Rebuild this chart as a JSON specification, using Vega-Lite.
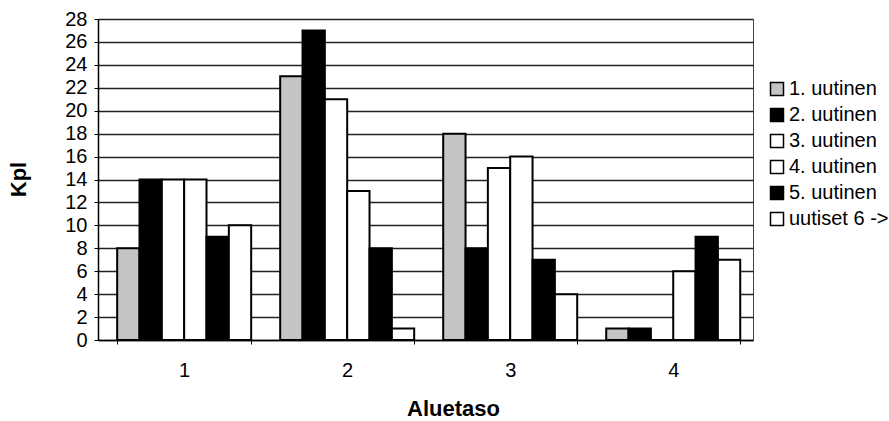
{
  "$schema": "https://vega.github.io/schema/vega-lite/v6.json",
  "autosize": "none",
  "width": 655,
  "height": 321,
  "padding": {"left": 98, "top": 19, "right": 136, "bottom": 81},
  "background": "white",
  "config": {
    "view": {"stroke": "#444444", "strokeWidth": 1},
    "font": "Liberation Sans"
  },
  "data": {
    "values": [
      {"taso": "1", "sarja": "1. uutinen", "kpl": 8},
      {"taso": "1", "sarja": "2. uutinen", "kpl": 14},
      {"taso": "1", "sarja": "3. uutinen", "kpl": 14},
      {"taso": "1", "sarja": "4. uutinen", "kpl": 14},
      {"taso": "1", "sarja": "5. uutinen", "kpl": 9},
      {"taso": "1", "sarja": "uutiset 6 ->", "kpl": 10},
      {"taso": "2", "sarja": "1. uutinen", "kpl": 23},
      {"taso": "2", "sarja": "2. uutinen", "kpl": 27},
      {"taso": "2", "sarja": "3. uutinen", "kpl": 21},
      {"taso": "2", "sarja": "4. uutinen", "kpl": 13},
      {"taso": "2", "sarja": "5. uutinen", "kpl": 8},
      {"taso": "2", "sarja": "uutiset 6 ->", "kpl": 1},
      {"taso": "3", "sarja": "1. uutinen", "kpl": 18},
      {"taso": "3", "sarja": "2. uutinen", "kpl": 8},
      {"taso": "3", "sarja": "3. uutinen", "kpl": 15},
      {"taso": "3", "sarja": "4. uutinen", "kpl": 16},
      {"taso": "3", "sarja": "5. uutinen", "kpl": 7},
      {"taso": "3", "sarja": "uutiset 6 ->", "kpl": 4},
      {"taso": "4", "sarja": "1. uutinen", "kpl": 1},
      {"taso": "4", "sarja": "2. uutinen", "kpl": 1},
      {"taso": "4", "sarja": "3. uutinen", "kpl": 0},
      {"taso": "4", "sarja": "4. uutinen", "kpl": 6},
      {"taso": "4", "sarja": "5. uutinen", "kpl": 9},
      {"taso": "4", "sarja": "uutiset 6 ->", "kpl": 7}
    ]
  },
  "mark": {"type": "bar", "stroke": "black", "strokeWidth": 2},
  "encoding": {
    "x": {
      "field": "taso",
      "type": "nominal",
      "scale": {"paddingInner": 0.178, "paddingOuter": 0.098, "align": 0.6},
      "axis": {
        "title": "Aluetaso",
        "titleFontSize": 22,
        "titleFontWeight": "bold",
        "titleColor": "black",
        "titleX": 355,
        "titleY": 68,
        "titleAlign": "center",
        "titleBaseline": "middle",
        "labelAngle": 0,
        "labelFontSize": 20,
        "labelColor": "black",
        "labelPadding": 16,
        "tickBand": "extent",
        "tickColor": "black",
        "tickSize": 4,
        "domainColor": "black",
        "domainWidth": 1.5,
        "grid": false
      }
    },
    "xOffset": {
      "field": "sarja",
      "type": "nominal",
      "scale": {"paddingInner": 0, "paddingOuter": 0}
    },
    "y": {
      "field": "kpl",
      "type": "quantitative",
      "scale": {"domain": [0, 28], "nice": false},
      "axis": {
        "title": "Kpl",
        "titleFontSize": 22,
        "titleFontWeight": "bold",
        "titleColor": "black",
        "titleX": -80,
        "titleY": 160,
        "titleAngle": -90,
        "titleAlign": "center",
        "titleBaseline": "middle",
        "values": [0, 2, 4, 6, 8, 10, 12, 14, 16, 18, 20, 22, 24, 26, 28],
        "labelFontSize": 20,
        "labelColor": "black",
        "labelPadding": 7,
        "tickColor": "black",
        "tickSize": 4,
        "domainColor": "black",
        "domainWidth": 1.5,
        "grid": true,
        "gridColor": "#222222",
        "gridWidth": 1.3
      }
    },
    "fill": {
      "field": "sarja",
      "type": "nominal",
      "scale": {
        "domain": ["1. uutinen", "2. uutinen", "3. uutinen", "4. uutinen", "5. uutinen", "uutiset 6 ->"],
        "range": ["#c4c4c4", "#000000", "#ffffff", "#ffffff", "#000000", "#ffffff"]
      },
      "legend": {
        "title": null,
        "orient": "none",
        "legendX": 669,
        "legendY": 60,
        "symbolType": "square",
        "symbolSize": 169,
        "symbolStrokeColor": "black",
        "symbolStrokeWidth": 1.5,
        "symbolOpacity": 1,
        "labelFontSize": 20,
        "labelColor": "black",
        "labelOffset": 2,
        "rowPadding": 6
      }
    }
  }
}
